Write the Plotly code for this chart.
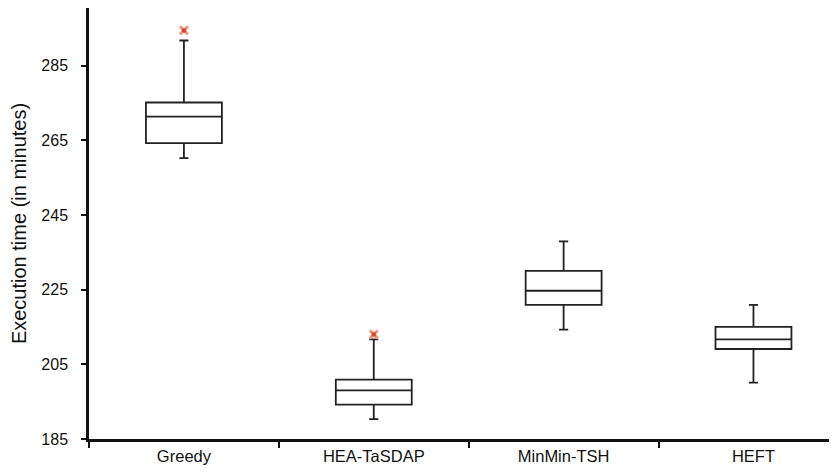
import plotly.graph_objects as go

categories = ["Greedy", "HEA-TaSDAP", "MinMin-TSH", "HEFT"]
lower = [260.2, 190.3, 214.3, 200.1]
q1 = [264.2, 194.2, 220.9, 209.1]
median = [271.3, 198.0, 224.7, 211.7]
q3 = [275.1, 200.9, 230.0, 215.0]
upper = [291.7, 211.7, 237.9, 220.9]
outlier_cats = ["Greedy", "HEA-TaSDAP"]
outlier_vals = [294.4, 213.0]
yticks = [185, 205, 225, 245, 265, 285]

fig = go.Figure()
fig.add_trace(go.Box(
    x=categories, q1=q1, median=median, q3=q3,
    lowerfence=lower, upperfence=upper,
    fillcolor="white", line=dict(color="#222222", width=1.8),
    width=0.4, whiskerwidth=0.12, boxpoints=False, showlegend=False,
    hoverinfo="skip",
))
fig.add_trace(go.Scatter(
    x=outlier_cats, y=outlier_vals, mode="markers",
    marker=dict(symbol="x-thin", size=8, color="#ee9a80",
                line=dict(width=3, color="#ee9a80")),
    showlegend=False,
))
fig.add_trace(go.Scatter(
    x=outlier_cats, y=outlier_vals, mode="markers",
    marker=dict(symbol="square", size=4, color="#d9432a"),
    showlegend=False,
))
fig.update_layout(
    width=829, height=464,
    margin=dict(l=81, r=0, t=0, b=33),
    paper_bgcolor="white", plot_bgcolor="white",
    font=dict(family="Liberation Sans, Arial, sans-serif", color="#111111"),
    xaxis=dict(
        type="category", categoryorder="array", categoryarray=categories,
        range=[-0.5, 3.44], tickson="boundaries", ticks="outside", ticklen=6,
        tickcolor="#111111", tickwidth=1.5, automargin=False,
        showline=True, linecolor="#111111", linewidth=2.5,
        showgrid=False, zeroline=False, tickfont=dict(size=16.5),
    ),
    yaxis=dict(
        range=[185, 300.4], tickvals=yticks, ticks="outside", ticklen=5,
        tickcolor="#111111", tickwidth=1.5, automargin=False,
        ticklabelstandoff=10,
        showline=True, linecolor="#111111", linewidth=2.5,
        showgrid=False, zeroline=False, tickfont=dict(size=16),
        title=dict(text="Execution time (in minutes)", font=dict(size=20), standoff=10),
    ),
)
fig.write_html("out.html")
